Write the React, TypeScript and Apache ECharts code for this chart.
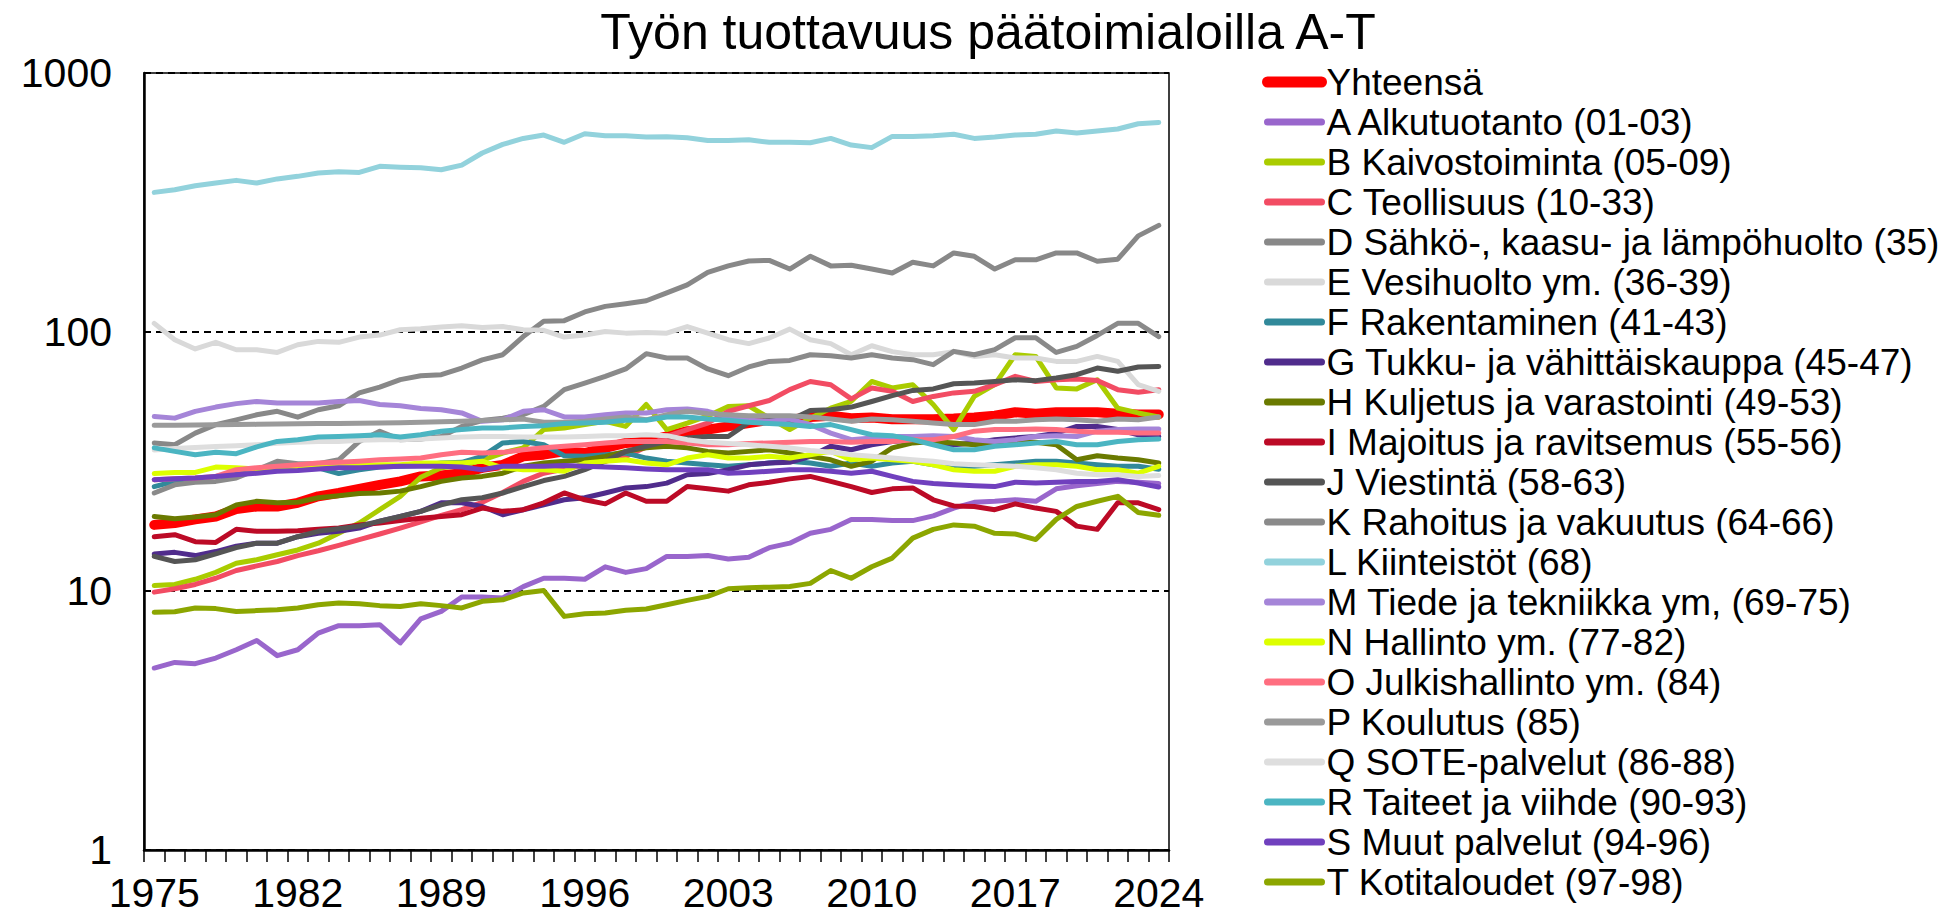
import React, { useEffect, useRef } from "react";
import * as echarts from "echarts";

const FONT = "Liberation Sans, Arial, sans-serif";

const years = [
  "1975","1976","1977","1978","1979","1980","1981","1982","1983","1984",
  "1985","1986","1987","1988","1989","1990","1991","1992","1993","1994",
  "1995","1996","1997","1998","1999","2000","2001","2002","2003","2004",
  "2005","2006","2007","2008","2009","2010","2011","2012","2013","2014",
  "2015","2016","2017","2018","2019","2020","2021","2022","2023","2024",
];

const titleText = "Työn tuottavuus päätoimialoilla A-T";

const names = [
  "Yhteensä",
  "A Alkutuotanto (01-03)",
  "B Kaivostoiminta (05-09)",
  "C Teollisuus (10-33)",
  "D Sähkö-, kaasu- ja lämpöhuolto (35)",
  "E Vesihuolto ym. (36-39)",
  "F Rakentaminen (41-43)",
  "G Tukku- ja vähittäiskauppa (45-47)",
  "H Kuljetus ja varastointi (49-53)",
  "I Majoitus ja ravitsemus (55-56)",
  "J Viestintä (58-63)",
  "K Rahoitus ja vakuutus (64-66)",
  "L Kiinteistöt (68)",
  "M Tiede ja tekniikka ym, (69-75)",
  "N Hallinto ym. (77-82)",
  "O Julkishallinto ym. (84)",
  "P Koulutus (85)",
  "Q SOTE-palvelut (86-88)",
  "R Taiteet ja viihde (90-93)",
  "S Muut palvelut (94-96)",
  "T Kotitaloudet (97-98)",
];

const colors = [
  "#FF0000", "#9966CC", "#AACC00", "#F24C63", "#888888", "#D9D9D9",
  "#31899A", "#502C8C", "#6A7A00", "#BC0A26", "#555555", "#8A8A8A",
  "#92D2DC", "#A585D8", "#DDFF00", "#FF6E80", "#9A9A9A", "#DEDEDE",
  "#4BB5C2", "#7040BE", "#8CA600",
];

const total = [18.0,18.3,18.9,19.4,20.7,21.2,21.2,21.9,23.2,23.9,24.8,25.7,26.5,27.7,27.9,28.5,29.9,30.7,33.1,33.6,34.6,34.1,35.7,37.3,37.8,39.5,41.4,42.0,43.2,44.5,45.8,45.8,47.0,47.5,46.5,46.8,46.0,46.0,46.0,46.3,46.8,47.5,49.0,48.3,49.0,49.0,49.0,48.3,48.0,48.0];
const serA = [5.04,5.30,5.24,5.51,5.93,6.44,5.63,5.93,6.88,7.35,7.35,7.41,6.30,7.80,8.34,9.48,9.48,9.40,10.4,11.2,11.2,11.1,12.4,11.8,12.2,13.6,13.6,13.7,13.3,13.5,14.7,15.3,16.7,17.3,18.9,18.9,18.7,18.7,19.5,20.9,22.0,22.2,22.5,22.2,24.8,25.5,26.0,26.5,26.3,26.0];
const serB = [10.5,10.6,11.1,11.8,12.8,13.2,13.8,14.4,15.3,16.7,18.3,20.6,23.2,27.5,29.9,30.5,32.0,34.1,35.7,42.0,42.6,43.9,45.2,43.2,52.5,42.0,44.5,47.4,51.6,51.9,46.5,42.0,46.5,50.8,54.0,64.4,60.8,62.6,52.5,42.0,56.4,62.6,81.7,80.5,60.8,60.3,65.4,50.8,48.7,47.0];
const serC = [9.9,10.2,10.6,11.2,12.0,12.5,13.0,13.7,14.3,15.0,15.8,16.6,17.5,18.5,19.6,20.6,22.0,24.0,26.5,28.5,29.6,30.7,31.7,33.1,36.0,39.5,42.0,44.5,49.4,51.9,54.4,59.9,64.4,62.6,55.2,60.8,59.0,53.9,56.4,58.2,59.0,62.6,67.4,64.4,65.4,65.8,65.0,59.9,58.5,59.9];
const serD = [37.3,36.7,40.7,43.9,45.8,47.9,49.4,46.9,50.1,51.9,58.2,61.3,65.5,67.8,68.4,72.6,78.0,81.7,96.0,110,110.6,119.5,125.6,128.6,132,141.5,152,170,180,188,189,175,196,180,181,175,169,186,180,202,196,175,190,190,202,202,187.5,191,235,258];
const serE = [108,93.4,86,91.2,85.4,85.4,83.4,89.3,92,91.2,95.6,97.3,102,103,104.5,105.7,104,105,102,101.5,95.6,97.3,100.5,99,99.5,99,105,99,93.4,90.2,94.8,102.6,93.4,90.2,81.7,88.5,84,81.7,81.7,84,80.5,81.7,79.4,79.4,77,77,80.5,77,62.6,59];
const serF = [25.3,26.5,26.9,27.7,28.5,29.4,29.6,29.6,29.9,28.4,29.4,30.1,30.3,30.5,31.2,31.4,33.1,37.3,37.8,36.7,33.3,33.1,33.6,34.1,32.6,31.7,31.2,30.7,30.3,30.7,31.2,31.7,31.2,30.3,31.2,30.3,31.2,31.7,30.7,30.3,30.3,30.7,31.2,31.7,31.7,31.2,30.7,30.3,30.3,29.5];
const serG = [13.9,14.1,13.7,14.2,14.9,15.3,15.3,16.2,16.7,17.0,17.5,18.6,19.4,20.3,21.9,21.9,21.2,19.7,20.6,21.5,22.5,22.9,23.9,25.0,25.3,26.1,28.1,28.4,29.4,30.7,31.2,31.4,33.1,36.2,35.1,36.7,37.8,38.4,37.3,36.7,37.3,38.4,39.0,39.5,40.7,43.2,43.2,42.0,40.1,39.5];
const serH = [19.4,19.0,19.3,19.7,21.5,22.2,21.9,22.0,22.9,23.3,23.8,23.9,24.3,25.3,26.5,27.3,27.7,28.5,30.3,31.2,31.7,32.1,33.1,34.6,35.7,36.2,35.7,34.6,34.1,34.6,35.1,34.1,33.1,32.1,30.3,31.7,35.7,37.3,37.8,37.3,36.7,37.3,37.5,37.5,36.7,32.1,33.3,32.6,32.1,31.2];
const serI = [16.2,16.5,15.5,15.4,17.3,17.0,17.0,17.1,17.3,17.5,18.0,18.3,18.7,19.1,19.4,19.7,20.9,20.3,20.6,21.9,23.9,22.5,21.7,23.9,22.2,22.2,25.3,24.8,24.3,25.7,26.3,27.1,27.7,26.5,25.3,24.0,24.8,25.0,22.5,21.3,21.2,20.6,21.7,20.9,20.3,17.8,17.3,21.9,21.9,20.6];
const serJ = [13.6,13.0,13.2,13.9,14.7,15.3,15.3,16.2,17.0,17.4,17.8,18.6,19.4,20.3,21.5,22.5,22.9,23.9,25.3,26.7,27.7,29.4,31.7,34.6,36.2,37.8,39.0,39.5,39.5,44.8,45.6,45.6,49.8,50.1,51.3,53.9,56.8,59.5,60.3,63.1,63.5,64.4,65.4,64.9,66.4,68.4,72.6,70.5,73.3,73.6];
const serK = [23.9,25.7,26.3,26.5,27.3,29.4,31.7,31.0,31.0,32.1,37.8,41.4,38.4,38.6,39.5,43.2,45.5,46.5,48.0,51.6,59.9,63.5,67.4,72.0,82.5,79.4,79.4,72.0,67.8,73.3,77.0,77.7,81.7,81.0,79.4,81.7,79.4,78.2,74.8,84.2,81.7,85.5,95.0,95.0,83.4,88.0,97.0,108,108,96];
const serL = [346,354,367,376,385,376,390,399,411,416,413,436,433,431,423,441,491,530,559,576,540,583,573,573,566,567,562,549,549,552,540,540,538,559,527,515,569,569,573,580,559,566,576,580,597,587,597,608,637,644];
const serM = [47.2,46.5,49.4,51.3,52.9,53.9,53.2,53.2,53.2,53.9,54.4,52.5,51.9,50.7,50.1,48.7,45.2,45.8,49.4,50.1,47.0,47.0,47.9,48.7,48.7,50.1,50.4,49.4,47.0,45.6,45.2,46.1,43.9,40.7,38.4,39.0,39.5,39.5,39.8,39.5,38.4,37.8,38.4,39.5,39.8,39.5,41.4,42.0,42.2,42.2];
const serN = [28.4,28.7,28.7,30.1,29.9,29.6,29.9,30.1,30.3,30.3,30.5,30.7,30.7,31.2,31.2,31.2,31.7,29.9,29.4,29.4,29.0,31.2,31.7,32.1,31.2,30.7,32.6,33.6,32.6,32.6,33.1,32.6,33.6,34.6,32.1,32.6,32.1,31.7,30.7,29.4,29.0,29.0,30.3,30.7,30.7,30.3,29.4,29.4,28.5,30.3];
const serO = [26.9,27.1,27.3,27.7,29.4,29.9,30.3,30.7,31.2,31.4,31.7,32.1,32.3,32.6,33.6,34.3,34.1,34.3,35.1,35.7,36.2,36.7,37.3,37.8,37.8,37.8,37.3,36.7,36.7,37.1,37.3,37.5,37.8,37.8,37.5,37.8,37.8,38.4,38.4,39.5,41.4,42.0,42.0,42.2,42.0,41.4,41.0,41.0,40.7,40.7];
const serP = [43.6,43.6,43.7,43.8,43.9,44.0,44.1,44.2,44.3,44.3,44.4,44.5,44.6,44.8,45.0,45.2,45.5,45.8,46.1,44.8,44.8,45.2,46.1,47.0,45.8,47.9,49.4,48.4,47.9,47.5,47.5,47.5,47.0,46.1,45.2,46.1,45.8,45.2,44.5,43.9,43.9,45.2,45.2,45.8,46.1,45.8,45.2,46.1,45.8,47.0];
const serQ = [35.0,35.5,35.8,36.1,36.4,36.7,37.2,37.5,37.8,37.8,38.2,38.4,38.4,38.6,39.0,39.3,39.5,39.5,39.3,39.3,39.3,39.5,39.8,39.8,40.1,39.8,38.4,37.5,37.1,36.7,36.2,35.7,34.9,34.3,33.6,33.1,32.6,32.1,31.7,31.0,30.7,30.5,30.3,29.9,29.4,28.5,28.1,28.1,27.7,27.9];
const serR = [35.7,34.6,33.6,34.3,33.9,36.0,37.8,38.4,39.3,39.5,39.8,40.1,39.3,40.1,41.4,42.0,42.6,42.6,43.2,43.5,44.3,44.5,44.8,45.6,45.6,47.0,47.0,46.1,45.6,44.8,44.3,43.9,43.2,43.9,42.0,40.1,39.8,38.4,36.7,35.1,35.1,36.2,36.7,37.3,37.8,36.7,36.7,37.8,38.4,38.6];
const serS = [26.9,27.1,27.3,27.7,28.1,28.5,29.0,29.2,29.6,29.9,29.9,30.1,30.3,30.3,30.3,30.1,29.4,30.3,30.3,30.3,30.5,30.3,30.1,29.9,29.6,29.4,29.4,29.4,28.5,28.7,29.0,29.4,29.4,29.0,28.5,29.0,27.7,26.5,26.0,25.7,25.5,25.3,26.3,26.1,26.3,26.5,26.5,26.9,26.1,25.2];
const serT = [8.27,8.32,8.60,8.55,8.34,8.40,8.47,8.60,8.85,8.99,8.93,8.78,8.72,8.93,8.78,8.60,9.12,9.25,9.83,10.05,7.98,8.17,8.22,8.42,8.52,8.85,9.20,9.53,10.2,10.3,10.35,10.4,10.7,12.0,11.2,12.4,13.4,16.0,17.3,18.0,17.8,16.7,16.6,15.8,18.9,21.2,22.2,23.2,20.1,19.6];

const allData = [
  total, serA, serB, serC, serD, serE, serF, serG, serH, serI, serJ,
  serK, serL, serM, serN, serO, serP, serQ, serR, serS, serT,
];

export default function App() {
  const ref = useRef<HTMLDivElement>(null);

  useEffect(() => {
    if (!ref.current) return;
    const chart = echarts.init(ref.current, null, { renderer: "svg" });

    const series = names.map((name, i) => ({
      name,
      type: "line",
      data: allData[i],
      symbol: "none",
      showSymbol: false,
      silent: true,
      lineStyle: {
        color: colors[i],
        width: i === 0 ? 10 : 5,
        cap: "round",
        join: "round",
      },
      itemStyle: { color: colors[i] },
      emphasis: { disabled: true },
    }));

    chart.setOption({
      animation: false,
      backgroundColor: "#ffffff",
      graphic: [
        {
          type: "text",
          x: 988,
          y: 32,
          silent: true,
          style: {
            text: titleText,
            fontSize: 50,
            fontFamily: FONT,
            fill: "#000",
            textAlign: "center",
            textVerticalAlign: "middle",
          },
        },
      ],
      grid: {
        left: 144,
        top: 73,
        width: 1025,
        height: 777,
        show: true,
        borderColor: "#000",
        borderWidth: 1.5,
        backgroundColor: "transparent",
      },
      legend: {
        orient: "vertical",
        left: 1262,
        top: 62,
        padding: 0,
        itemGap: 0,
        itemWidth: 54,
        itemHeight: 2,
        selectedMode: false,
        itemStyle: { opacity: 0 },
        textStyle: {
          fontSize: 37,
          lineHeight: 40,
          color: "#000",
          fontFamily: FONT,
        },
        lineStyle: { width: 7, cap: "round" },
        data: names.map((name, i) => ({
          name,
          itemStyle: { opacity: 0 },
          lineStyle: { width: i === 0 ? 11 : 7, color: colors[i], cap: "round" },
        })),
      },
      xAxis: {
        type: "category",
        data: years,
        boundaryGap: true,
        axisLine: { show: true, lineStyle: { color: "#000", width: 2.5 } },
        axisTick: {
          show: true,
          interval: 0,
          length: 12,
          lineStyle: { color: "#000", width: 1.5 },
        },
        axisLabel: {
          interval: 6,
          fontSize: 41,
          color: "#000",
          margin: 22,
          fontFamily: FONT,
        },
        splitLine: { show: false },
      },
      yAxis: {
        type: "log",
        logBase: 10,
        min: 1,
        max: 1000,
        axisLine: { show: true, lineStyle: { color: "#000", width: 2.5 } },
        axisTick: { show: false },
        axisLabel: {
          fontSize: 41,
          color: "#000",
          margin: 32,
          fontFamily: FONT,
          formatter: (v: number) => String(Math.round(v)),
        },
        splitLine: {
          show: true,
          lineStyle: { color: "#000", type: [7, 5], width: 2 },
        },
      },
      series,
    });

    return () => {
      chart.dispose();
    };
  }, []);

  return (
    <div
      ref={ref}
      style={{ position: "absolute", left: 0, top: 0, width: 1950, height: 917 }}
    />
  );
}
